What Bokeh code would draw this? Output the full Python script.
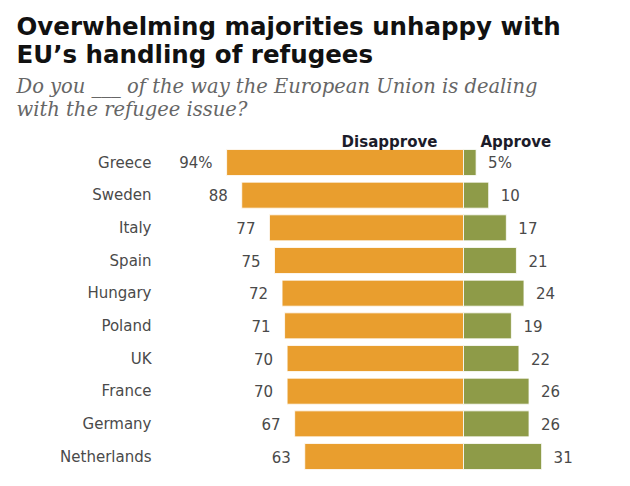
from bokeh.plotting import figure
from bokeh.models import ColumnDataSource, Range1d, Label
from bokeh.core.properties import value
from bokeh.embed import file_html
from bokeh.resources import INLINE

# ---- data ----
countries = ["Greece", "Sweden", "Italy", "Spain", "Hungary", "Poland", "UK",
             "France", "Germany", "Netherlands"]
disapprove = [94, 88, 77, 75, 72, 71, 70, 70, 67, 63]
approve = [5, 10, 17, 21, 24, 19, 22, 26, 26, 31]
dis_labels = ["94%"] + [str(v) for v in disapprove[1:]]
app_labels = ["5%"] + [str(v) for v in approve[1:]]

title_lines = ["Overwhelming majorities unhappy  with", "EU\u2019s handling of refugees"]
subtitle_lines = ["Do you ___ of the way the European Union is dealing",
                  "with the refugee issue?"]

ORANGE = "#E99E2E"
GREEN = "#8E9B48"

W, H = 630, 486
X0, SX = 463.0, 2.52       # pixel of zero line, pixels per percentage point
Y0, SY = 162.0, 32.67      # pixel of first row centre, pixels per row


def dx(px):
    return (px - X0) / SX


def dy(px):
    return (px - Y0) / SY


p = figure(width=W, height=H, output_backend="svg", toolbar_location=None,
           x_range=Range1d(dx(0), dx(W)), y_range=Range1d(dy(H), dy(0)),
           min_border=0, outline_line_color=None)
p.axis.visible = False
p.grid.visible = False
p.background_fill_color = "white"
p.border_fill_color = "white"

idx = list(range(len(countries)))
src = ColumnDataSource(dict(
    y=idx,
    country=countries,
    dis_left=[-v for v in disapprove],
    app_right=approve,
    dis_lab=dis_labels,
    app_lab=app_labels,
    label_x=[dx(151)] * len(countries),
))

bh = 26.0 / SY
p.hbar(y="y", left="dis_left", right=0, height=bh, source=src,
       fill_color=ORANGE, line_color="white", line_width=0.8)
p.hbar(y="y", left=0, right="app_right", height=bh, source=src,
       fill_color=GREEN, line_color="white", line_width=0.8)

lab_font = value("DejaVu Sans")
p.text(x="dis_left", y="y", text="dis_lab", source=src, x_offset=-14,
       text_align="right", text_baseline="middle", text_font=lab_font,
       text_font_size="15px", text_color="#4a4a4a")
p.text(x="app_right", y="y", text="app_lab", source=src, x_offset=12,
       text_align="left", text_baseline="middle", text_font=lab_font,
       text_font_size="15px", text_color="#4a4a4a")
p.text(x="label_x", y="y", text="country", source=src,
       text_align="right", text_baseline="middle", text_font=lab_font,
       text_font_size="15px", text_color="#4a4a4a")

# column headers
p.add_layout(Label(x=dx(389), y=dy(141), text="Disapprove", text_align="center",
                   text_baseline="middle", text_font="DejaVu Sans",
                   text_font_style="bold", text_font_size="15px", text_color="#1c1c2a"))
p.add_layout(Label(x=dx(480), y=dy(141), text="Approve", text_align="left",
                   text_baseline="middle", text_font="DejaVu Sans",
                   text_font_style="bold", text_font_size="15px", text_color="#1c1c2a"))

# title & subtitle
for t, ypx in zip(title_lines, [26, 54]):
    p.add_layout(Label(x=dx(16), y=dy(ypx), text=t, text_align="left",
                       text_baseline="middle", text_font="DejaVu Sans",
                       text_font_style="bold", text_font_size="24.5px",
                       text_color="#111111"))
for t, ypx in zip(subtitle_lines, [86, 109]):
    p.add_layout(Label(x=dx(16), y=dy(ypx), text=t, text_align="left",
                       text_baseline="middle", text_font="DejaVu Serif",
                       text_font_style="italic", text_font_size="19.5px",
                       text_color="#666666"))

open("out.html", "w").write(file_html(p, INLINE))
